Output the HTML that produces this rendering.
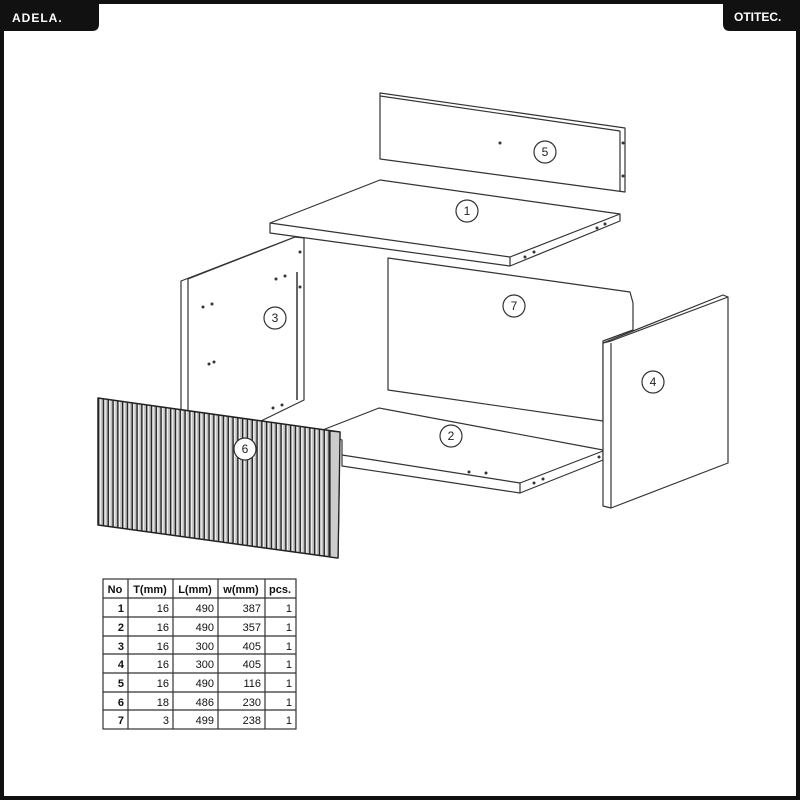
<!DOCTYPE html>
<html><head><meta charset="utf-8"><style>
html,body{margin:0;padding:0;background:#fff}
svg{display:block}
.t{font-family:"Liberation Sans",sans-serif}
</style></head><body>
<svg width="800" height="800" viewBox="0 0 800 800" xmlns="http://www.w3.org/2000/svg">
<defs>
<pattern id="rib" x="98" y="0" width="4.8" height="10" patternUnits="userSpaceOnUse">
<rect width="4.8" height="10" fill="#bdbdbd"/>
<rect x="0" width="1.4" height="10" fill="#222"/>
<rect x="1.4" width="1.6" height="10" fill="#eee"/>
</pattern>
</defs>
<rect width="800" height="800" fill="#111"/>
<path d="M4 31 H92 Q99 31 99 24 V4 H723 V24 Q723 31 730 31 H796 V796 H4 Z" fill="#fff"/>
<text x="12" y="22" class="t" font-size="12" font-weight="bold" fill="#fff" letter-spacing="1">ADELA.</text>
<text x="734" y="21" class="t" font-size="12" font-weight="bold" fill="#fff">OTITEC.</text>

<g fill="#fff" stroke="#333" stroke-width="1.2" stroke-linejoin="round">
<!-- panel 5 -->
<polygon points="380,93 625,128 625,192 380,159"/>
<line x1="380" y1="96" x2="620" y2="131"/>
<line x1="620" y1="131" x2="620" y2="192"/>
<!-- panel 1 -->
<polygon points="270,223 380,180 620,214 620,221 510,266 270,233"/>
<polyline points="270,223 510,257 620,214" fill="none"/>
<line x1="510" y1="257" x2="510" y2="266"/>
<!-- panel 3 -->
<polygon points="181,281 295,237 304,238 304,400 181,460"/>
<polyline points="188,279 188,460" fill="none"/>
<line x1="188" y1="279" x2="295" y2="237"/>
<line x1="297" y1="272" x2="297" y2="400" stroke-width="1.5"/>
<!-- panel 7 -->
<polygon points="388,258 630,292 633,303 633,330 603,341 603,421 388,390"/>
<!-- panel 2 -->
<polygon points="320,431 379,408 603,450 603,460 520,493 342,466 342,440"/>
<polyline points="342,455 520,483 603,451" fill="none"/>
<line x1="520" y1="483" x2="520" y2="493"/>
<!-- panel 4 -->
<polygon points="603,343 723,295 728,297 728,463 611,508 603,506"/>
<line x1="611" y1="343" x2="611" y2="508"/>
<line x1="603" y1="343" x2="611" y2="341"/>
<line x1="611" y1="341" x2="728" y2="297"/>
<!-- panel 6 -->
<polygon points="98,398 340,432 338,558 98,525" fill="url(#rib)" stroke="#222" stroke-width="1.5"/>
<polygon points="330,431 340,432 338,558 330,557" fill="#ccc" stroke="#222"/>
</g>
<g fill="#333">
<circle cx="500" cy="143" r="1.5"/><circle cx="623" cy="143" r="1.5"/><circle cx="623" cy="176" r="1.5"/>
<circle cx="525" cy="257" r="1.5"/><circle cx="534" cy="252" r="1.5"/><circle cx="597" cy="228" r="1.5"/><circle cx="605" cy="224" r="1.5"/>
<circle cx="203" cy="307" r="1.5"/><circle cx="212" cy="304" r="1.5"/><circle cx="276" cy="279" r="1.5"/><circle cx="285" cy="276" r="1.5"/>
<circle cx="209" cy="364" r="1.5"/><circle cx="214" cy="362" r="1.5"/><circle cx="273" cy="408" r="1.5"/><circle cx="282" cy="405" r="1.5"/>
<circle cx="300" cy="252" r="1.5"/><circle cx="300" cy="287" r="1.5"/>
<circle cx="469" cy="472" r="1.5"/><circle cx="486" cy="473" r="1.5"/><circle cx="534" cy="483" r="1.5"/><circle cx="543" cy="479" r="1.5"/><circle cx="599" cy="457" r="1.5"/>
</g>
<g fill="#fff" stroke="#333" stroke-width="1.2">
<circle cx="467" cy="211" r="11"/><circle cx="451" cy="436" r="11"/><circle cx="275" cy="318" r="11"/>
<circle cx="653" cy="382" r="11"/><circle cx="545" cy="152" r="11"/><circle cx="245" cy="449" r="11"/><circle cx="514" cy="306" r="11"/>
</g>
<g class="t" font-size="12" fill="#222" text-anchor="middle">
<text x="467" y="215">1</text><text x="451" y="440">2</text><text x="275" y="322">3</text>
<text x="653" y="386">4</text><text x="545" y="156">5</text><text x="245" y="453">6</text><text x="514" y="310">7</text>
</g>
<!-- table -->
<g stroke="#333" stroke-width="1.2" fill="none">
<rect x="103" y="579" width="193" height="150"/>
<line x1="103" y1="598" x2="296" y2="598"/>
<line x1="103" y1="617" x2="296" y2="617"/>
<line x1="103" y1="636" x2="296" y2="636"/>
<line x1="103" y1="654" x2="296" y2="654"/>
<line x1="103" y1="673" x2="296" y2="673"/>
<line x1="103" y1="692" x2="296" y2="692"/>
<line x1="103" y1="710" x2="296" y2="710"/>
<line x1="128" y1="579" x2="128" y2="729"/>
<line x1="173" y1="579" x2="173" y2="729"/>
<line x1="218" y1="579" x2="218" y2="729"/>
<line x1="265" y1="579" x2="265" y2="729"/>
</g>
<g class="t" font-size="11" fill="#111" font-weight="bold">
<text x="115" y="593" text-anchor="middle">No</text>
<text x="150" y="593" text-anchor="middle">T(mm)</text>
<text x="195" y="593" text-anchor="middle">L(mm)</text>
<text x="241" y="593" text-anchor="middle">w(mm)</text>
<text x="280" y="593" text-anchor="middle">pcs.</text>
</g>
<g class="t" font-size="11" fill="#111" text-anchor="end">
<g font-weight="bold"><text x="124" y="612">1</text><text x="124" y="631">2</text><text x="124" y="650">3</text><text x="124" y="668">4</text><text x="124" y="687">5</text><text x="124" y="706">6</text><text x="124" y="724">7</text></g>
<text x="169" y="612">16</text><text x="169" y="631">16</text><text x="169" y="650">16</text><text x="169" y="668">16</text><text x="169" y="687">16</text><text x="169" y="706">18</text><text x="169" y="724">3</text>
<text x="214" y="612">490</text><text x="214" y="631">490</text><text x="214" y="650">300</text><text x="214" y="668">300</text><text x="214" y="687">490</text><text x="214" y="706">486</text><text x="214" y="724">499</text>
<text x="261" y="612">387</text><text x="261" y="631">357</text><text x="261" y="650">405</text><text x="261" y="668">405</text><text x="261" y="687">116</text><text x="261" y="706">230</text><text x="261" y="724">238</text>
<text x="292" y="612">1</text><text x="292" y="631">1</text><text x="292" y="650">1</text><text x="292" y="668">1</text><text x="292" y="687">1</text><text x="292" y="706">1</text><text x="292" y="724">1</text>
</g>
</svg>
</body></html>
